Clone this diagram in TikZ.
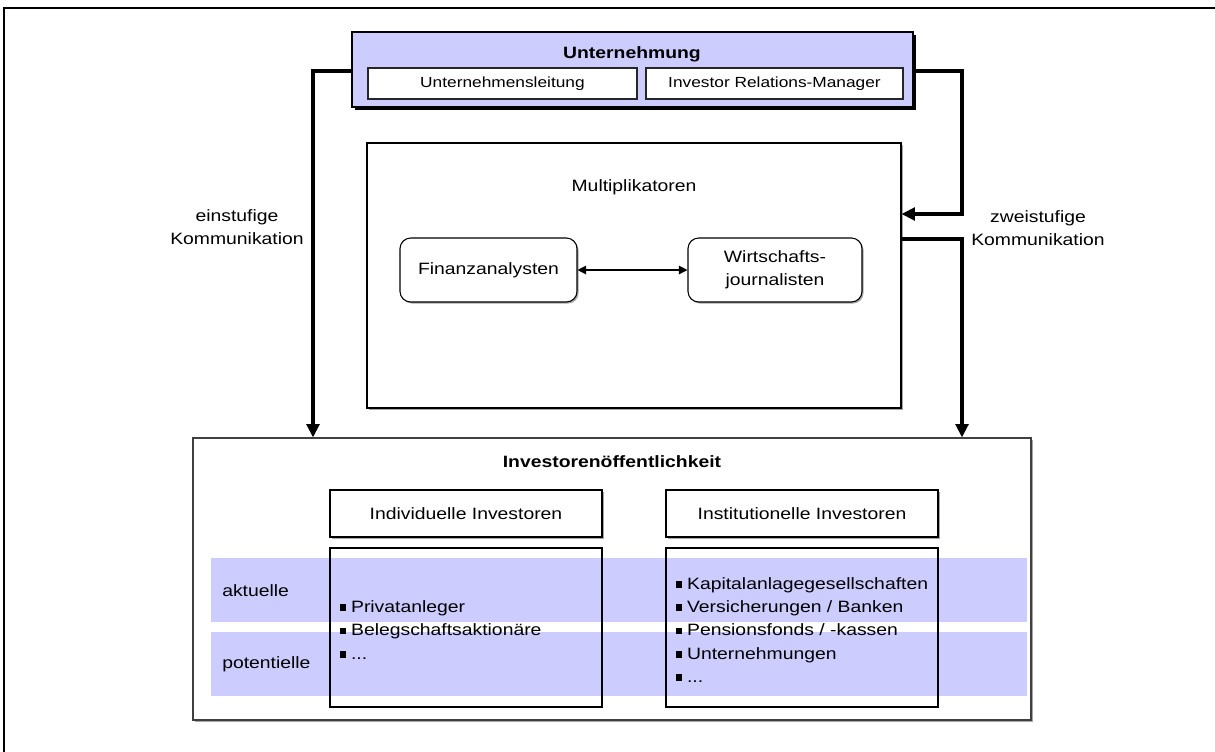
\documentclass[tikz,border=0pt]{standalone}
\usepackage{fontspec}
\setmainfont{Liberation Sans}[FakeStretch=1.18]
\usetikzlibrary{fit,shadows,arrows.meta}
\definecolor{lav}{RGB}{204,204,255}
\newcommand\txtL{\fontsize{12.3}{17.5}\selectfont}
\newcommand\txtS{\fontsize{11}{13}\selectfont}
\newcommand\sqbul{\rule[0.2ex]{0.36em}{0.4em}\hspace{0.3em}}
\tikzset{
  every node/.style={inner sep=0pt, font=\txtL},
  unitbox/.style={draw=black, line width=1.2pt, fill=lav, inner sep=0pt,
    drop shadow={shadow xshift=2.4pt, shadow yshift=-2.4pt, fill=black, opacity=1}},
  smallbox/.style={draw=black!85, line width=0.8pt, fill=white, inner sep=0pt,
    label={[font=\txtS]center:#1}},
  panel/.style={draw=black, line width=0.8pt, fill=white, inner sep=0pt,
    drop shadow={shadow xshift=1.2pt, shadow yshift=-1.2pt, fill=black!35, opacity=1}},
  rbox/.style={draw=black, line width=0.8pt, fill=white, rounded corners=8pt, inner sep=0pt,
    drop shadow={shadow xshift=1.2pt, shadow yshift=-1.2pt, fill=black!35, opacity=1}},
  headbox/.style={draw=black, line width=0.8pt, fill=white, inner sep=0pt,
    drop shadow={shadow xshift=1.5pt, shadow yshift=-1.5pt, fill=black!35, opacity=1}},
  listbox/.style={draw=black, line width=0.8pt, inner sep=0pt},
  band/.style={fill=lav, draw=none},
  conn/.style={line width=2.4pt, -{Triangle[length=10pt, width=9.5pt]}},
  link/.style={line width=0.9pt, {Triangle[length=6.5pt, width=6.5pt]}-{Triangle[length=6.5pt, width=6.5pt]}},
}
\begin{document}
\begin{tikzpicture}[x=0.75pt, y=-0.75pt]
\useasboundingbox (0,0) rectangle (1215,751);
\clip (0,0) rectangle (1215,751);
\fill[white] (0,0) rectangle (1215,751);

% outer frame
\draw[line width=1.4pt] (1225,8) -- (4,8) -- (4,760);

% company
\node[unitbox, fit={(352,32) (913,107)}] (unt) {};
\node[font=\txtL\bfseries] (untT) at (632,54) {Unternehmung};
\node[smallbox=Unternehmensleitung, fit={(368,68) (637,99)}] (ul) {};
\node[smallbox=Investor Relations-Manager, fit={(646,68) (903,99)}] (irm) {};

% multipliers
\node[panel, fit={(367,143) (901,408)}] (mult) {};
\node (multT) at (634,187) {Multiplikatoren};
\node[rbox, fit={(400,238) (577,302)}, label={center:Finanzanalysten}] (fa) {};
\node[rbox, fit={(688,238) (862,302)}, label={[align=center]center:Wirtschafts-\\journalisten}] (wj) {};
\draw[link] (fa.east) -- (wj.west);

% investor public
\node[panel, draw=black!75, fit={(193,438) (1031,720)}] (inv) {};
\node[font=\txtL\bfseries] (invT) at (612,462) {Investorenöffentlichkeit};
\node[headbox, fit={(330,490) (602,537)}, label={center:Individuelle Investoren}] (ind) {};
\node[headbox, fit={(666,490) (938,537)}, label={center:Institutionelle Investoren}] (ins) {};

\fill[band] (211,558) rectangle (1027,622);
\fill[band] (211,632) rectangle (1027,696);
\node[anchor=west] (akt) at (222,591) {aktuelle};
\node[anchor=west] (pot) at (222,664) {potentielle};

\node[listbox, fit={(330,548) (602,707)}] (indL) {};
\node[listbox, fit={(666,548) (938,707)}] (insL) {};
\node[anchor=west, align=left] (indItems) at (340,630) {\sqbul Privatanleger\\ \sqbul Belegschaftsaktionäre\\ \sqbul ...};
\node[anchor=west, align=left] (insItems) at (676,630) {\sqbul Kapitalanlagegesellschaften\\ \sqbul Versicherungen / Banken\\ \sqbul Pensionsfonds / -kassen\\ \sqbul Unternehmungen\\ \sqbul ...};

% communication paths
\coordinate (lb) at (313,71);
\coordinate (rb) at (962,71);
\coordinate (rin) at (962,214);
\coordinate (rout) at (962,239);
\draw[conn] (unt.west |- lb) -- (lb) -- (lb |- inv.north);
\draw[conn] (unt.east |- rb) -- (rb) -- (rin) -- (mult.east |- rin);
\draw[conn] (mult.east |- rout) -- (rout) -- (rout |- inv.north);

\node[align=center] (one) at (237,227) {einstufige\\Kommunikation};
\node[align=center] (two) at (1038,228) {zweistufige\\Kommunikation};
\end{tikzpicture}
\end{document}
